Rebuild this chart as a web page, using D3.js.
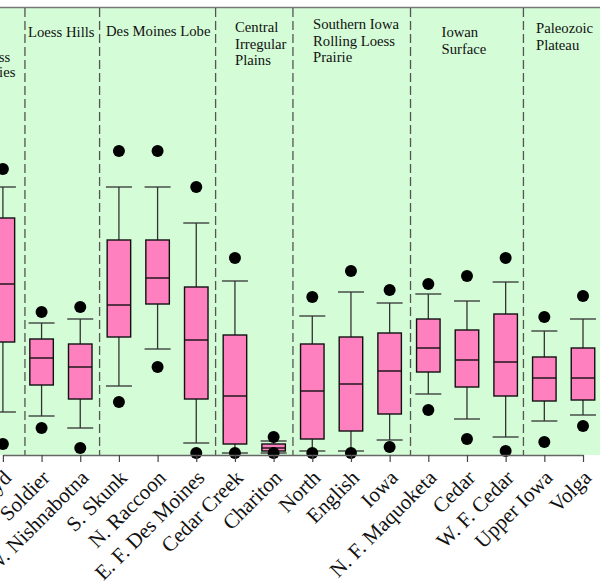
<!DOCTYPE html>
<html>
<head>
<meta charset="utf-8">
<script src="https://cdn.jsdelivr.net/npm/d3@7"></script>
<style>
  body { margin: 0; background: #fff; }
  text { font-family: "Liberation Serif", "Times New Roman", serif; fill: #111; }
</style>
</head>
<body>
<div id="chart"></div>
<script>
// river names along the x axis
const rivers = ["Floyd", "Soldier", "W. Nishnabotna", "S. Skunk", "N. Raccoon", "E. F. Des Moines",
    "Cedar Creek", "Chariton", "North", "English", "Iowa", "N. F. Maquoketa", "Cedar",
    "W. F. Cedar", "Upper Iowa", "Volga"];

// box plot statistics
const outlierHigh = [28.6, 14.3, 14.8, 30.4, 30.4, 26.8, 19.7, 1.8, 15.8, 18.4, 16.5, 17.1, 17.9, 19.7, 13.8, 15.9];
const whiskerHigh = [26.8, 13.2, 13.6, 26.8, 26.8, 23.2, 17.4, 1.4, 13.9, 16.3, 15.2, 16.1, 15.4, 17.3, 12.4, 13.6];
const q3 =          [23.7, 11.6, 11.1, 21.5, 21.5, 16.8, 12.0, 1.1, 11.1, 11.8, 12.2, 13.6, 12.5, 14.1, 9.8, 10.7];
const medians =     [17.1, 9.7, 8.8, 15.0, 17.7, 11.5, 5.9, 0.7, 6.4, 7.1, 8.4, 10.7, 9.5, 9.3, 7.7, 7.7];
const q1 =          [11.3, 7.0, 5.6, 11.8, 15.1, 5.6, 1.1, 0.4, 1.6, 2.4, 4.1, 8.3, 6.8, 5.9, 5.4, 5.5];
const whiskerLow =  [4.3, 3.9, 2.7, 6.9, 10.6, 1.2, 0.2, 0.2, 0.4, 0.4, 1.5, 6.1, 3.6, 1.8, 3.4, 4.0];
const outlierLow =  [1.1, 2.7, 0.7, 5.3, 8.8, 0.2, 0.2, 0.2, 0.2, 0.2, 0.8, 4.5, 1.6, 0.4, 1.3, 2.9];

// ecoregion headers and where the dashed dividers fall (in river-index units)
const regionNames = [["Loess", "Prairies"], ["Loess Hills"], ["Des Moines Lobe"],
    ["Central", "Irregular", "Plains"], ["Southern Iowa", "Rolling Loess", "Prairie"],
    ["Iowan", "Surface"], ["Paleozoic", "Plateau"]];
const regionBreaks = [0.57, 2.5, 5.5, 7.5, 10.54, 13.46];

const width = 600, height = 587;
const margin = {top: 8, bottom: 455};

const svg = d3.select("#chart").append("svg")
    .attr("width", width)
    .attr("height", height);

// scales
const x = d3.scaleLinear().domain([0, rivers.length - 1]).range([2.9, 583]);
const y = d3.scaleLinear().domain([0, 44.7]).range([margin.bottom, margin.top]);

// background panel
svg.append("rect")
    .attr("x", 0).attr("y", margin.top)
    .attr("width", width).attr("height", margin.bottom - margin.top)
    .attr("fill", "#d4fcd6");

svg.append("line")
    .attr("x1", 0).attr("x2", width)
    .attr("y1", margin.top - 0.5).attr("y2", margin.top - 0.5)
    .attr("stroke", "#777").attr("stroke-width", 1.5);

// dashed dividers between ecoregions
svg.selectAll(".divider")
    .data(regionBreaks)
    .join("line")
    .attr("class", "divider")
    .attr("x1", d => x(d)).attr("x2", d => x(d))
    .attr("y1", margin.top).attr("y2", margin.bottom)
    .attr("stroke", "#555")
    .attr("stroke-width", 1.3)
    .attr("stroke-dasharray", "9,4");

// header text
const headerLayout = [
    {x: -7, y: 62, anchor: "middle", gap: 15},
    {x: 28, y: 37},
    {x: 106, y: 36},
    {x: 235, y: 32},
    {x: 313, y: 29},
    {x: 441.5, y: 37},
    {x: 536, y: 33}
];
regionNames.forEach((lines, i) => {
    const lay = headerLayout[i];
    const t = svg.append("text")
        .attr("x", lay.x).attr("y", lay.y)
        .attr("text-anchor", lay.anchor || "start")
        .style("font-size", "14.7px");
    lines.forEach((ln, j) => {
        t.append("tspan")
            .attr("x", lay.x)
            .attr("y", lay.y + j * (lay.gap || 16.6))
            .text(ln);
    });
});

// box plots
const stats = rivers.map((r, i) => ({
    name: r, i: i,
    oh: outlierHigh[i], wh: whiskerHigh[i], q3: q3[i], med: medians[i],
    q1: q1[i], wl: whiskerLow[i], ol: outlierLow[i]
}));

const boxW = 23.5, capW = 26;
const g = svg.selectAll(".box").data(stats).join("g").attr("class", "box");

g.append("line")
    .attr("x1", d => x(d.i)).attr("x2", d => x(d.i))
    .attr("y1", d => y(d.wh)).attr("y2", d => y(d.wl))
    .attr("stroke", "#333").attr("stroke-width", 1.3);

g.append("line")
    .attr("x1", d => x(d.i) - capW / 2).attr("x2", d => x(d.i) + capW / 2)
    .attr("y1", d => y(d.wh)).attr("y2", d => y(d.wh))
    .attr("stroke", "#333").attr("stroke-width", 1.3);

g.append("line")
    .attr("x1", d => x(d.i) - capW / 2).attr("x2", d => x(d.i) + capW / 2)
    .attr("y1", d => y(d.wl)).attr("y2", d => y(d.wl))
    .attr("stroke", "#333").attr("stroke-width", 1.3);

g.append("rect")
    .attr("x", d => x(d.i) - boxW / 2)
    .attr("y", d => y(d.q3))
    .attr("width", boxW)
    .attr("height", d => y(d.q1) - y(d.q3))
    .attr("fill", "#fe80be")
    .attr("stroke", "#111").attr("stroke-width", 1.4);

g.append("line")
    .attr("x1", d => x(d.i) - boxW / 2).attr("x2", d => x(d.i) + boxW / 2)
    .attr("y1", d => y(d.med)).attr("y2", d => y(d.med))
    .attr("stroke", "#111").attr("stroke-width", 1.4);

g.append("circle")
    .attr("cx", d => x(d.i)).attr("cy", d => y(d.oh)).attr("r", 6)
    .attr("fill", "#000");

g.append("circle")
    .attr("cx", d => x(d.i)).attr("cy", d => y(d.ol)).attr("r", 6)
    .attr("fill", "#000");

// x axis
const xAxis = d3.axisBottom(x)
    .tickValues(d3.range(rivers.length))
    .tickFormat(i => rivers[i])
    .tickSize(7)
    .tickSizeOuter(0);

const axisG = svg.append("g")
    .attr("class", "x-axis axis")
    .attr("transform", "translate(0," + margin.bottom + ")")
    .call(xAxis);

axisG.select(".domain").attr("stroke", "#666").attr("stroke-width", 1.5);
axisG.selectAll(".tick line").attr("stroke", "#444").attr("stroke-width", 1.2);
axisG.selectAll(".tick text")
    .attr("text-anchor", "end")
    .attr("x", 0).attr("y", 0).attr("dy", 0)
    .attr("transform", "translate(9,24) rotate(-45)")
    .style("font-size", "21px")
    .style("font-family", "'Liberation Serif', 'Times New Roman', serif")
    .attr("fill", "#111");
</script>
</body>
</html>
